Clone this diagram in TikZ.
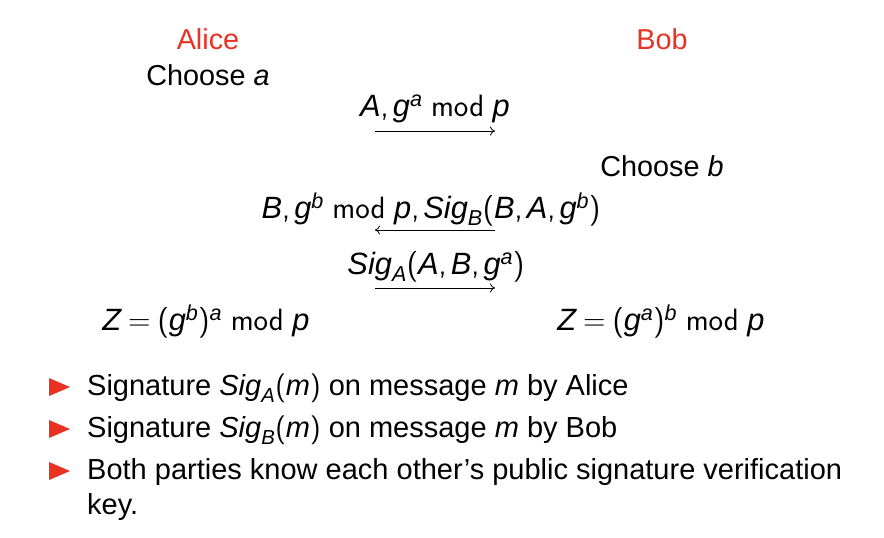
\documentclass[tikz,border=0pt]{standalone}
\usepackage{amsmath}
\usepackage{fontspec}
\setmainfont{Liberation Sans}
\usetikzlibrary{arrows.meta}
\definecolor{alert}{RGB}{232,51,35}
\newcommand{\mi}[1]{\textit{#1}}
\newcommand{\mmod}{\ \text{\sffamily mod}\ }
\newcommand{\lp}{\mathopen{\text{\sffamily(}}}
\newcommand{\rp}{\mathclose{\text{\sffamily)}}}
\newcommand{\cm}{\mathpunct{\text{\sffamily,}}}
\newcommand{\eq}{\mathrel{\text{\sffamily=}}}
\tikzset{
  txt/.style={anchor=base, inner sep=0pt, font=\fontsize{28.8}{34}\selectfont},
  mathtxt/.style={anchor=base, inner sep=0pt, font=\fontsize{30.8}{36}\selectfont},
  lefttxt/.style={anchor=base west, inner sep=0pt, font=\fontsize{29}{34}\selectfont},
  person/.style={txt, text=alert},
  msg/.style={-{To[length=5pt,width=9pt]}, line width=0.8pt},
  bullet/.style={fill=alert, draw=none}
}
\begin{document}
\begin{tikzpicture}[x=1pt,y=-1pt]
\useasboundingbox (0,0) rectangle (884,538);
\node[person] (alice) at (208,49) {Alice};
\node[person] (bob) at (662,49) {Bob};
\node[txt] (cha) at (208,85) {Choose $\mi{a}$};
\node[mathtxt] (m1) at (435,116) {$\mi{A}\cm \mi{g}^{\mi{a}}\mmod \mi{p}$};
\coordinate (a1s) at (375,131);
\coordinate (a1e) at (495,131);
\draw[msg] (a1s) -- (a1e);
\node[txt] (chb) at (662,176) {Choose $\mi{b}$};
\node[mathtxt] (m2) at (431,218) {$\mi{B}\cm \mi{g}^{\mi{b}}\mmod \mi{p}\cm \mi{Sig}_{\mi{B}}\lp\mi{B}\cm \mi{A}\cm \mi{g}^{\mi{b}}\rp$};
\coordinate (a2s) at (495,230);
\coordinate (a2e) at (375,230);
\draw[msg] (a2s) -- (a2e);
\node[mathtxt] (m3) at (436,274) {$\mi{Sig}_{\mi{A}}\lp\mi{A}\cm \mi{B}\cm \mi{g}^{\mi{a}}\rp$};
\coordinate (a3s) at (375,288);
\coordinate (a3e) at (495,288);
\draw[msg] (a3s) -- (a3e);
\node[mathtxt] (za) at (206,330) {$\mi{Z} \eq \lp\mi{g}^{\mi{b}}\rp{}^{\mi{a}}\mmod \mi{p}$};
\node[mathtxt] (zb) at (661,330) {$\mi{Z} \eq \lp\mi{g}^{\mi{a}}\rp{}^{\mi{b}}\mmod \mi{p}$};
\foreach \y in {387,429,471}{
  \fill[bullet] (49,\y-9) -- (70,\y) -- (49,\y+9) -- cycle;
}
\node[lefttxt] (t1) at (87,395) {Signature $\mi{Sig}_{\mi{A}}\lp\mi{m}\rp$ on message $\mi{m}$ by Alice};
\node[lefttxt] (t2) at (87,437) {Signature $\mi{Sig}_{\mi{B}}\lp\mi{m}\rp$ on message $\mi{m}$ by Bob};
\node[lefttxt] (t3) at (87,479) {Both parties know each other’s public signature verification};
\node[lefttxt] (t4) at (87,514) {key.};
\end{tikzpicture}
\end{document}
